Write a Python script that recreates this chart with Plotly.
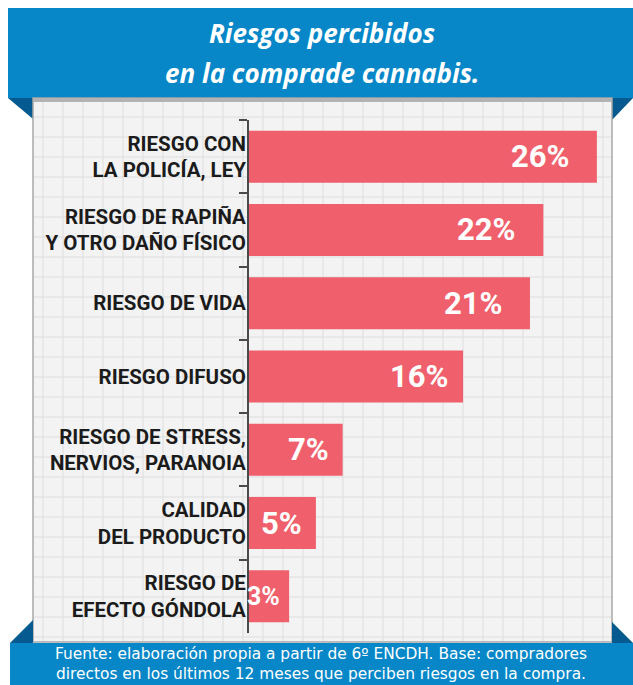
import plotly.graph_objects as go

# ---- data ----
categories = [
    "RIESGO CON<br>LA POLICÍA, LEY",
    "RIESGO DE RAPIÑA<br>Y OTRO DAÑO FÍSICO",
    "RIESGO DE VIDA",
    "RIESGO DIFUSO",
    "RIESGO DE STRESS,<br>NERVIOS, PARANOIA",
    "CALIDAD<br>DEL PRODUCTO",
    "RIESGO DE<br>EFECTO GÓNDOLA",
]
values = [26, 22, 21, 16, 7, 5, 3]
title_lines = ["Riesgos percibidos", "en la comprade cannabis."]
footer_lines = [
    "Fuente: elaboración propia a partir de 6º ENCDH. Base: compradores",
    "directos en los últimos 12 meses que perciben riesgos en la compra.",
]

# ---- layout geometry (pixels) ----
FW, FH = 633, 685
ML, MR, MT, MB = 249, 21, 120, 52
PW = FW - ML - MR
PH = FH - MT - MB

def px(x):
    return (x - ML) / PW

def py(y):
    return (FH - MB - y) / PH

BLUE = "#0787c8"
DARK = "#055a8f"
BAR = "#ef5f6c"

shapes = []
def rect(x0, y0, x1, y1, fill, line=None, lw=0):
    shapes.append(dict(type="rect", xref="paper", yref="paper", layer="below",
                       x0=px(x0), x1=px(x1), y0=py(y1), y1=py(y0),
                       fillcolor=fill, line=dict(color=line or fill, width=lw)))

def tri(pts, fill):
    path = "M " + " L ".join(f"{px(a):.5f},{py(b):.5f}" for a, b in pts) + " Z"
    shapes.append(dict(type="path", xref="paper", yref="paper", layer="below",
                       path=path, fillcolor=fill, line=dict(width=0)))

def hline(y, x0, x1, color, w=1):
    shapes.append(dict(type="line", xref="paper", yref="paper", layer="below",
                       x0=px(x0), x1=px(x1), y0=py(y), y1=py(y),
                       line=dict(color=color, width=w)))

def vline(x, y0, y1, color, w=1):
    shapes.append(dict(type="line", xref="paper", yref="paper", layer="below",
                       x0=px(x), x1=px(x), y0=py(y0), y1=py(y1),
                       line=dict(color=color, width=w)))

# header
rect(8, 8, 633, 98, BLUE)
tri([(8, 98), (33, 98), (33, 119)], DARK)
tri([(612, 98), (633, 98), (612, 120)], DARK)
# panel
rect(33, 98, 612, 642, "#f3f3f3", "#a8a8a8", 1.5)
for gx in range(43, 612, 20):
    vline(gx, 102, 641, "#dddddd", 1)
for gy in range(117, 642, 20):
    hline(gy, 34, 611, "#dddddd", 1)
rect(33, 98, 612, 102, "#b3b3b3")
# footer
rect(10, 643, 633, 685, BLUE)
tri([(33, 620), (10, 643), (33, 643)], DARK)
tri([(612, 622), (633, 643), (612, 643)], DARK)

fig = go.Figure()
fig.add_trace(go.Bar(
    x=values, y=categories, orientation="h", width=0.71,
    marker=dict(color=BAR, line=dict(width=0)),
    hoverinfo="skip",
))

annotations = []
for i, t in enumerate(title_lines):
    annotations.append(dict(xref="paper", yref="paper", x=px(322), y=py(33 + 40 * i),
                            text=f"<b><i>{t}</i></b>", showarrow=False,
                            xanchor="center", yanchor="middle",
                            font=dict(family="Open Sans", size=26, color="white")))
for i, t in enumerate(footer_lines):
    annotations.append(dict(xref="paper", yref="paper", x=px(321), y=py(654 + 20 * i),
                            text=t, showarrow=False,
                            xanchor="center", yanchor="middle",
                            font=dict(family="DejaVu Sans", size=15.4, color="white")))
for c, v in zip(categories, values):
    pad = 25 if v >= 20 else (12 if v >= 5 else 7)
    size = 31 if v >= 5 else 25
    annotations.append(dict(xref="x", yref="y", x=v, y=c, text=f"{v}%",
                            showarrow=False, xanchor="right", yanchor="middle",
                            xshift=-pad,
                            font=dict(family="Roboto", size=size, color="white",
                                      weight="bold")))

fig.update_layout(
    width=FW, height=FH,
    margin=dict(l=ML, r=MR, t=MT, b=MB, pad=0),
    paper_bgcolor="white",
    plot_bgcolor="rgba(0,0,0,0)",
    showlegend=False,
    shapes=shapes,
    annotations=annotations,
    bargap=0.29,
    xaxis=dict(visible=False, range=[0, 27.13], fixedrange=True),
    yaxis=dict(
        type="category",
        range=[len(categories) - 0.5, -0.5],
        showgrid=False, zeroline=False,
        showline=True, linecolor="#4a4a4a", linewidth=2,
        ticks="outside", tickson="boundaries", ticklen=8, tickwidth=2,
        tickcolor="#4a4a4a",
        ticklabelstandoff=-3,
        tickfont=dict(family="Roboto", size=20.5, color="#1b1b1b", weight="bold"),
        fixedrange=True,
    ),
)

fig.write_html("out.html", config={"displayModeBar": False},
               post_script="document.body.style.margin='0px';document.body.style.overflow='hidden';")
